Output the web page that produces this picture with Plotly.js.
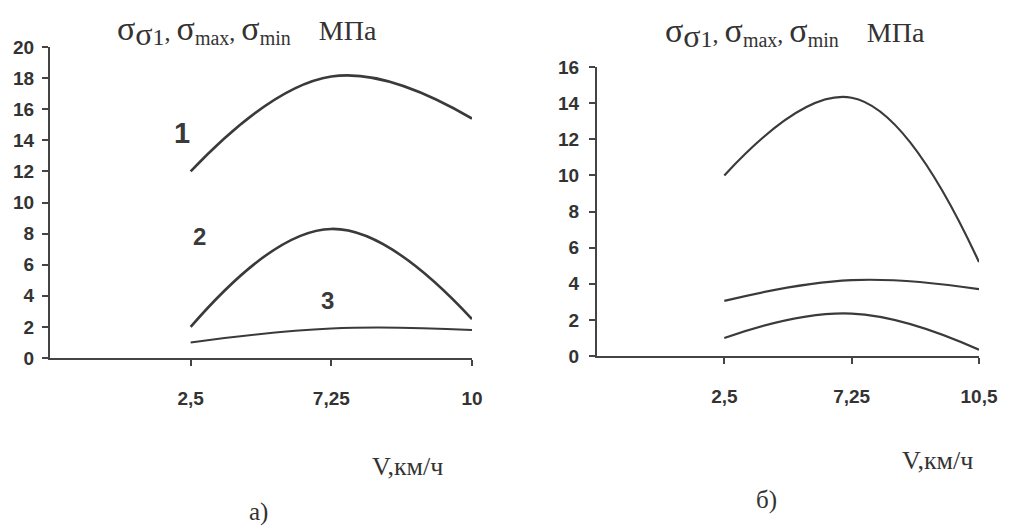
<!DOCTYPE html>
<html><head><meta charset="utf-8">
<script src="https://cdn.plot.ly/plotly-3.0.1.min.js"></script>
<style>body{margin:0;background:#fff}#c{width:1015px;height:526px}</style>
</head><body><div id="c"></div>
<script>
const speedsA = ['2,5', '7,25', '10'];
const speedsB = ['2,5', '7,25', '10,5'];
const posA = [1, 2, 3];
const a1 = [12.0, 18.1, 15.4];
const a2 = [2.0, 8.3, 2.5];
const a3 = [1.0, 1.9, 1.8];
const b1 = [10.0, 14.3, 5.2];
const b2 = [3.05, 4.2, 3.7];
const b3 = [1.0, 2.35, 0.35];
const curveLabels = ['1', '2', '3'];

const lc = '#3a3a3a';
function tr(y, xa, ya, w) {
  return {x: posA, y: y, xaxis: xa, yaxis: ya, mode: 'lines', type: 'scatter',
    line: {color: lc, width: w, shape: 'spline', smoothing: 1.2}, hoverinfo: 'none'};
}
const data = [
  tr(a1, 'x', 'y', 2.6), tr(a2, 'x', 'y', 2.6), tr(a3, 'x', 'y', 2),
  tr(b1, 'x2', 'y2', 2.2), tr(b2, 'x2', 'y2', 2.2), tr(b3, 'x2', 'y2', 2.2)
];
const tickFont = {family: 'Liberation Sans, Arial', size: 19, color: '#333', weight: 'bold'};
function xax(dom, labels, anchor) {
  return {domain: dom, range: [0, 3], anchor: anchor, tickmode: 'array', tickvals: posA, ticktext: labels,
    showgrid: false, zeroline: false, showline: true, linecolor: '#444', linewidth: 2,
    ticks: 'outside', ticklen: 6, tickwidth: 2, tickcolor: '#444',
    tickfont: tickFont, ticklabelstandoff: 16, fixedrange: true};
}
function yax(dom, max, anchor, stand) {
  return {domain: dom, range: [0, max], dtick: 2, anchor: anchor,
    showgrid: false, zeroline: false, showline: true, linecolor: '#444', linewidth: 2,
    ticks: 'outside', ticklen: 6, tickwidth: 2, tickcolor: '#444',
    tickfont: tickFont, ticklabelstandoff: stand, fixedrange: true};
}
const S = (sz, t) => '<span style="font-size:' + sz + 'px">' + t + '</span>';
const sp = '\u2002';
const titleText = S(34, 'σ') + '<sub>' + S(32, 'σ') + S(24, '1') + '</sub>' + S(24, ', ') +
  S(34, 'σ') + '<sub>' + S(20, 'max') + '</sub>' + S(24, ', ') +
  S(34, 'σ') + '<sub>' + S(20, 'min') + '</sub>' + S(28, sp + sp + 'МПа');
const serif = 'Liberation Serif, Times New Roman, serif';
function pa(x, y, text, size) {
  return {xref: 'paper', yref: 'paper', x: x/1015, y: 1 - y/526, xanchor: 'center', yanchor: 'middle',
    text: text, showarrow: false, font: {family: serif, size: size, color: '#333'}};
}
const numFont = (s) => ({family: 'Liberation Sans, Arial', size: s, weight: 'bold', color: '#3a3a3a'});
const ann = [
  pa(247, 31, titleText, 26),
  pa(795, 33, titleText, 26),
  pa(407, 466, 'V,км/ч', 26),
  pa(937, 460, 'V,км/ч', 26),
  pa(258, 512, 'а)', 25),
  pa(766, 500, 'б)', 25),
  {xref: 'x', yref: 'y', x: 0.94, y: 14.5, text: curveLabels[0], showarrow: false, font: numFont(29)},
  {xref: 'x', yref: 'y', x: 1.06, y: 7.8, text: curveLabels[1], showarrow: false, font: numFont(24)},
  {xref: 'x', yref: 'y', x: 1.97, y: 3.7, text: curveLabels[2], showarrow: false, font: numFont(24)}
];
const layout = {
  width: 1015, height: 526, margin: {l: 0, r: 0, t: 0, b: 0},
  paper_bgcolor: '#fff', plot_bgcolor: 'rgba(0,0,0,0)', showlegend: false,
  xaxis: xax([50/1015, 472/1015], speedsA, 'y'),
  yaxis: yax([168/526, 479/526], 20, 'x', 4),
  xaxis2: xax([597/1015, 979/1015], speedsB, 'y2'),
  yaxis2: yax([170/526, 459/526], 16, 'x2', 6),
  annotations: ann
};
Plotly.newPlot('c', data, layout, {displayModeBar: false, staticPlot: true});
</script></body></html>
